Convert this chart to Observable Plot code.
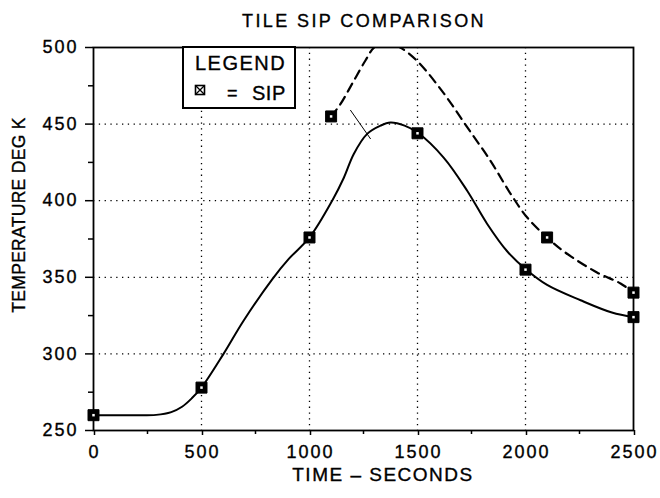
<!DOCTYPE html>
<html><head><meta charset="utf-8">
<script src="https://cdn.jsdelivr.net/npm/d3@7"></script>
<script src="https://cdn.jsdelivr.net/npm/@observablehq/plot@0.6"></script>
<style>
body{margin:0;background:#fff;}
#wrap{width:660px;height:498px;}
#wrap svg text{stroke:black;stroke-width:0.35px;}
</style></head><body><div id="wrap"></div>
<script>
// Solid curve
const solidTime = [0,150,290,360,410,455,500,602,694,829,904,1000,1105,1159,1205,1267,1329,1375,1440,1500,1622,1730,1822,1915,2000,2100,2255,2400,2500];
const solidTemp = [260,260,260.2,262,265.5,271,278,300,321.5,349,362,376,400,415,430.5,443.6,449,451,449,444.5,428,406.5,385,367,355.4,345,335,327,324];
// Dashed curve
const dashTime = [1100,1143,1204,1259,1300,1360,1420,1500,1622,1730,1838,1931,2008,2100,2176,2333,2440,2500];
const dashTemp = [455,463,478,491.5,500,503,500,491,470,448,426,404.5,389,376,367,353,346,340];
// SIP points
const sipTime = [0,500,1000,1100,1500,2000,2100,2500,2500];
const sipTemp = [260,278,376,455,444,355,376,340,324];
// leader line
const leaderTime = [1190,1282];
const leaderTemp = [459,440.5];
// ticks
const xTicks = [0,500,1000,1500,2000,2500];
const xMinor = [250,750,1250,1750,2250];
const yTicks = [250,300,350,400,450,500];
const yMinor = [275,325,375,425,475];
const xGrid = [500,1000,1500,2000];
const yGrid = [300,350,400,450];

const solid = solidTime.map((t,i)=>({t, v: solidTemp[i]}));
const dash = dashTime.map((t,i)=>({t, v: dashTemp[i]}));
const sip = sipTime.map((t,i)=>({t, v: sipTemp[i]}));
const leader = leaderTime.map((t,i)=>({t, v: leaderTemp[i]}));

const chart = Plot.plot({
  width: 660, height: 498,
  marginLeft: 93, marginRight: 27, marginTop: 47, marginBottom: 68,
  style: {fontFamily: "'Liberation Sans', Arial, sans-serif", fontSize: "18px", color: "black", background: "white", letterSpacing: "2px"},
  x: {domain: [0,2500]},
  y: {domain: [250,500]},
  marks: [
    Plot.ruleX(xGrid, {stroke: "black", strokeWidth: 1.3, strokeDasharray: "1.3,4.5"}),
    Plot.ruleY(yGrid, {stroke: "black", strokeWidth: 1.3, strokeDasharray: "1.3,4.5"}),
    Plot.axisX({ticks: xTicks, tickFormat: d => String(d), tickSize: 5, tickPadding: 10, fontSize: 18, label: null, strokeWidth: 1.5, dx: 1}),
    Plot.axisX({ticks: xMinor, tickSize: 4, text: null, label: null, strokeWidth: 1.5}),
    Plot.axisY({ticks: yTicks, tickFormat: d => String(d), tickSize: 8, tickPadding: 7, fontSize: 18, label: null, strokeWidth: 1.5}),
    Plot.axisY({ticks: yMinor, tickSize: 5, text: null, label: null, strokeWidth: 1.5}),
    Plot.frame({stroke: "black", strokeWidth: 1.8}),
    Plot.line(solid, {x: "t", y: "v", curve: "catmull-rom", stroke: "black", strokeWidth: 2}),
    Plot.line(dash, {x: "t", y: "v", curve: "catmull-rom", stroke: "black", strokeWidth: 2.2, strokeDasharray: "9,6", clip: true}),
    Plot.line(leader, {x: "t", y: "v", stroke: "black", strokeWidth: 1}),
    Plot.dot(sip, {x: "t", y: "v", symbol: "square", r: 6.2, fill: "black", stroke: "black", strokeWidth: 1}),
    Plot.dot(sip, {x: "t", y: "v", symbol: "square", r: 1.4, fill: "white"})
  ]
});
document.getElementById("wrap").appendChild(chart);

const svg = d3.select(chart);
const F = "'Liberation Sans', Arial, sans-serif";
svg.append("text").attr("x", 364).attr("y", 27).attr("text-anchor", "middle")
  .attr("font-family", F).attr("font-size", 18).attr("letter-spacing", "2.4px").attr("fill", "black")
  .text("TILE SIP COMPARISON");
svg.append("text").attr("x", 383).attr("y", 481).attr("text-anchor", "middle")
  .attr("font-family", F).attr("font-size", 19).attr("letter-spacing", "1.5px").attr("fill", "black")
  .text("TIME – SECONDS");
svg.append("text").attr("transform", "translate(25,215) rotate(-90)").attr("text-anchor", "middle")
  .attr("font-family", F).attr("font-size", 17.5).attr("letter-spacing", "0.3px").attr("fill", "black")
  .text("TEMPERATURE DEG K");
// legend box
const lg = svg.append("g").attr("text-anchor", "start");
lg.append("rect").attr("x", 183).attr("y", 47).attr("width", 112).attr("height", 61)
  .attr("fill", "white").attr("stroke", "black").attr("stroke-width", 2);
lg.append("text").attr("x", 195).attr("y", 70).attr("font-family", F).attr("font-size", 20)
  .attr("letter-spacing", "1.5px").attr("fill", "black").text("LEGEND");
lg.append("rect").attr("x", 195.5).attr("y", 85.5).attr("width", 9).attr("height", 9)
  .attr("fill", "white").attr("stroke", "black").attr("stroke-width", 1.6);
lg.append("path").attr("d", "M196,86L204,94M204,86L196,94").attr("stroke", "black").attr("stroke-width", 1.3);
lg.append("text").attr("x", 227).attr("y", 99).attr("font-family", F).attr("font-size", 18)
  .attr("fill", "black").text("=");
lg.append("text").attr("x", 252).attr("y", 100).attr("font-family", F).attr("font-size", 20)
  .attr("letter-spacing", "0.5px").attr("fill", "black").text("SIP");
</script>
</body></html>
